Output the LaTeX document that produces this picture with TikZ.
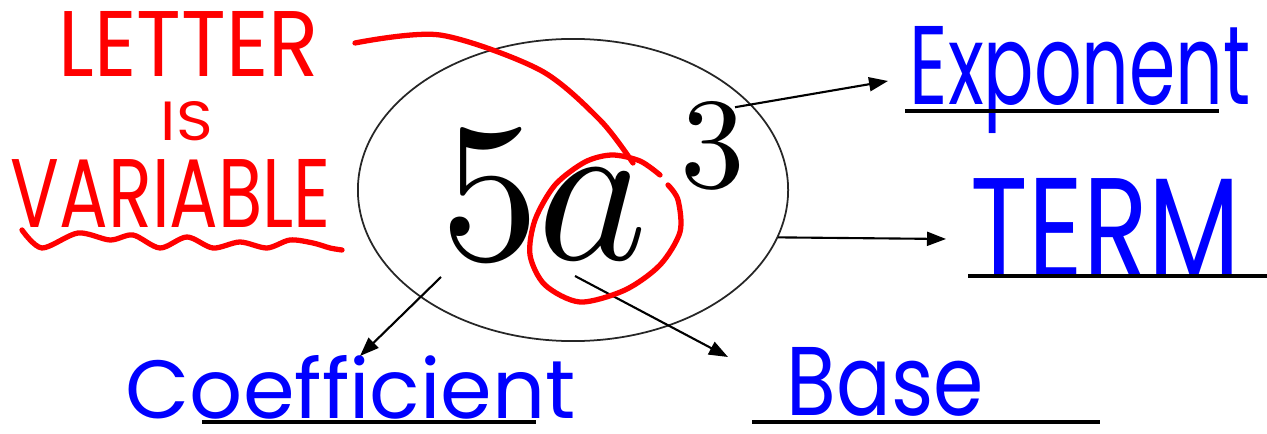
\documentclass[tikz,border=0pt]{standalone}
\usepackage{fontspec}
\setsansfont{Poppins}
\usetikzlibrary{shapes.geometric,arrows.meta,positioning}

\newcommand{\handfit}[3]{\resizebox{#1}{#2}{#3}}

\begin{document}
\begin{tikzpicture}[
    x=0.01cm, y=-0.01cm,
    oval/.style={draw=black!85, ellipse, line width=0.5pt, minimum width=4.3cm, minimum height=3.02cm, inner sep=0},
    glyph/.style={inner sep=0, anchor=base west, text=black},
    edge/.style={-{Triangle[length=0.19cm, width=0.14cm]}, line width=0.6pt, draw=black},
    rule/.style={line width=0.9pt, draw=black},
    bluepen/.style={inner sep=0, anchor=base west, text=blue, font=\sffamily},
    redpen/.style={inner sep=0, anchor=base west, text=red, font=\sffamily},
    redstroke/.style={draw=red, line width=1.5pt, line cap=round, line join=round},
]

\useasboundingbox (0,0) rectangle (1267,434);

% The term
\node[oval] (oval) at (573,190) {};
\node[glyph] (five) at (440,260) {\resizebox{!}{1.32cm}{5}};
\node[glyph] (avar) at (537,260) {\resizebox{!}{0.9cm}{$a$}};
\node[glyph] (three) at (680,188) {\resizebox{!}{0.86cm}{3}};

% Handwritten labels
\node[bluepen] (expo) at (909,105) {\handfit{3.41cm}{0.78cm}{Exponent}};
\node[bluepen] (term) at (970,279) {\handfit{2.69cm}{1.0cm}{TERM}};
\node[bluepen] (coeff) at (125,418) {\handfit{4.5cm}{0.63cm}{Coefficient}};
\node[bluepen] (base) at (786,416) {\handfit{1.97cm}{0.68cm}{Base}};

\node[redpen] (letter) at (58,77) {\handfit{2.6cm}{0.65cm}{LETTER}};
\node[redpen] (is) at (160,141) {\handfit{0.52cm}{0.39cm}{IS}};
\node[redpen] (variable) at (10,228) {\handfit{3.2cm}{0.68cm}{VARIABLE}};

% Arrow ends
\coordinate (expoTip) at (888,81);
\coordinate (termTip) at (946,239);
\coordinate (coeffTail) at (441,277);
\coordinate (coeffTip) at (360,356);
\coordinate (baseTail) at (575,276);
\coordinate (baseTip) at (728,357);

\draw[edge] ([shift={(-11,6)}]three.north east) -- (expoTip);
\draw[edge] (oval.-13.6) -- (termTip);
\draw[edge] (coeffTail) -- (coeffTip);
\draw[edge] (baseTail) -- (baseTip);

% Blanks
\draw[rule] (905,111) -- (1219,111);
\draw[rule] (968,276) -- (1267,276);
\draw[rule] (202,422) -- (536,422);
\draw[rule] (752,422) -- (1100,422);

% Red marks
\draw[redstroke] plot[smooth] coordinates {(355,43) (440,35) (540,70) (600,120) (633,163)};
\draw[redstroke] plot[smooth] coordinates {(660,175) (640,161) (612,155) (585,162) (555,185) (535,220) (530,255) (545,285) (580,302) (625,290) (660,265) (680,232) (678,200) (668,185)};
\draw[redstroke] plot[smooth] coordinates {(22,230) (42,248) (78,233) (110,240) (133,235) (160,248) (187,237) (213,248) (240,242) (267,248) (290,240) (313,243) (330,248) (342,250)};

\end{tikzpicture}
\end{document}
